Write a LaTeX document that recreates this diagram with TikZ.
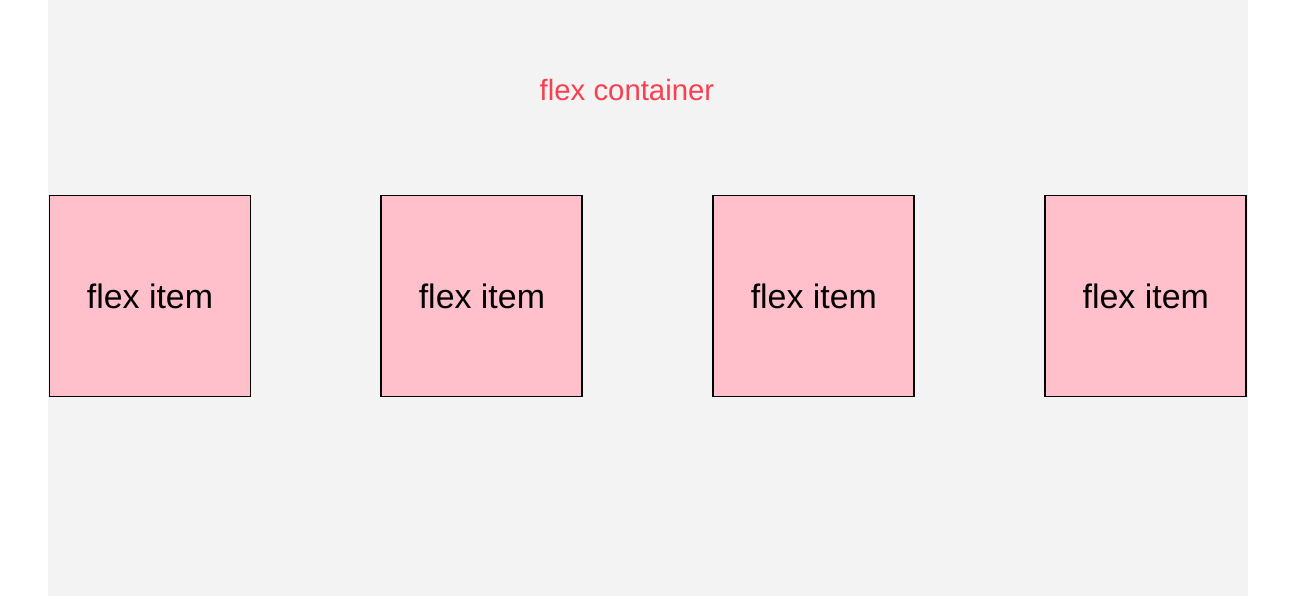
\documentclass[tikz,border=0pt]{standalone}
\usepackage{fontspec}
\setmainfont{Liberation Sans}
\usetikzlibrary{positioning}
\definecolor{ContainerGray}{HTML}{F3F3F3}
\definecolor{ItemPink}{HTML}{FFC0CB}
\definecolor{TitleRed}{HTML}{F93F50}

\begin{document}
\begin{tikzpicture}[
      x=0.02cm,y=-0.02cm,
      item/.style={rectangle,minimum size=4.02cm,inner sep=0pt,outer sep=0pt,
      draw=black,line width=1.1pt,fill=ItemPink,font=\fontsize{19.3}{22}\selectfont},
      title/.style={text=TitleRed,font=\fontsize{16.7}{20}\selectfont}]
      \useasboundingbox (0,0) rectangle (1302,596);
      \fill[ContainerGray] (48,0) rectangle (1248,596);
      \node[title] (container) at (627,90) {flex container};
      \node[item] (item1) at (150,296) {flex item};
      \node[item,right=2.62cm of item1] (item2) {flex item};
      \node[item,right=2.62cm of item2] (item3) {flex item};
      \node[item,right=2.62cm of item3] (item4) {flex item};
    \end{tikzpicture}
\end{document}
